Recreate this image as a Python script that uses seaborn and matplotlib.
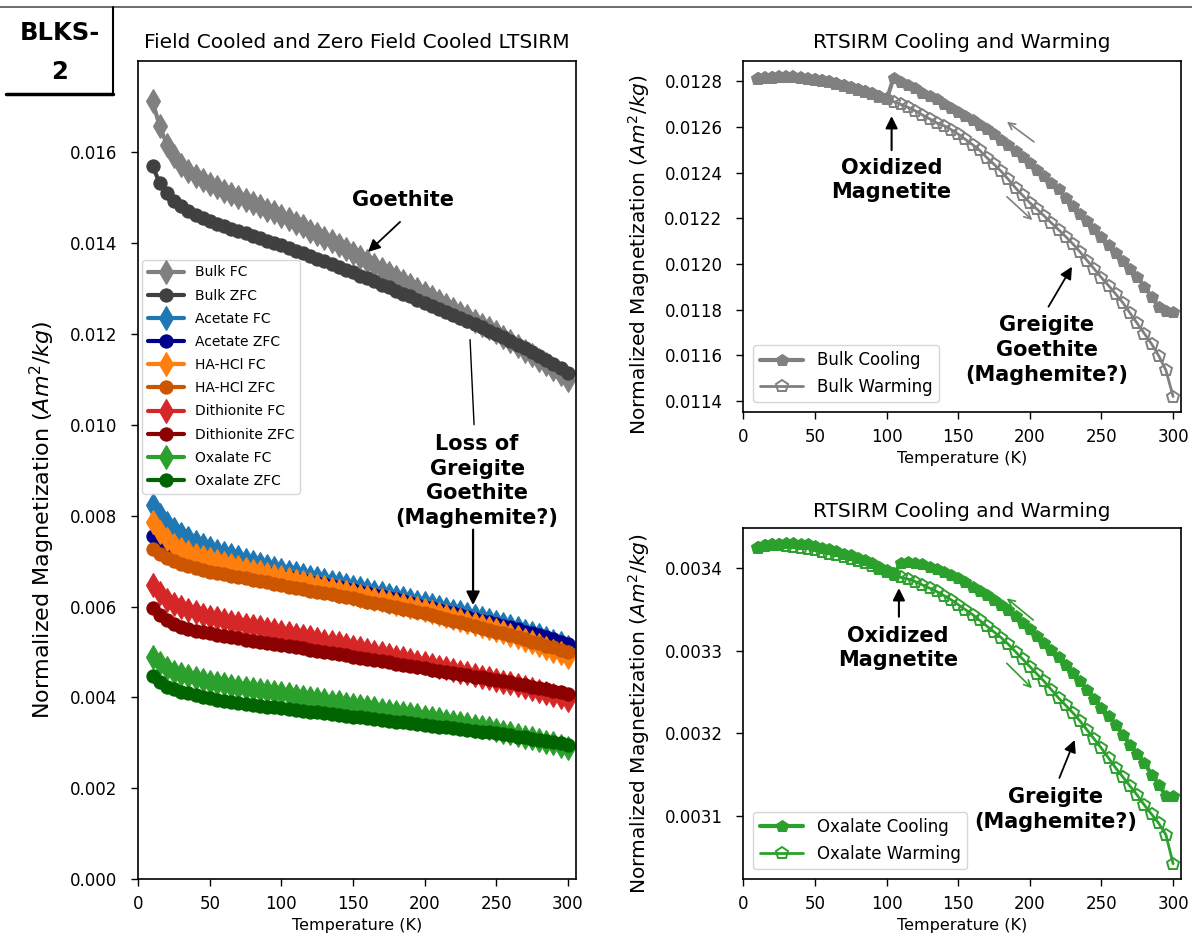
import matplotlib
matplotlib.use("Agg")
import matplotlib.pyplot as plt
from matplotlib.lines import Line2D
from matplotlib.ticker import FormatStrFormatter
import seaborn as sns

# ---------------- DATA ----------------
T_LT = [10, 15, 20, 25, 30, 35, 40, 45, 50, 55, 60, 65, 70, 75, 80, 85, 90, 95, 100,
        105, 110, 115, 120, 125, 130, 135, 140, 145, 150, 155, 160, 165, 170, 175, 180,
        185, 190, 195, 200, 205, 210, 215, 220, 225, 230, 235, 240, 245, 250, 255, 260,
        265, 270, 275, 280, 285, 290, 295, 300]

bulk_fc = [0.01711, 0.01656, 0.01616, 0.01590, 0.01571, 0.01558, 0.01547, 0.01538, 0.01530, 0.01522,
           0.01515, 0.01508, 0.01501, 0.01494, 0.01487, 0.01480, 0.01473, 0.01467, 0.01460, 0.01452,
           0.01444, 0.01436, 0.01427, 0.01419, 0.01411, 0.01403, 0.01395, 0.01387, 0.01378, 0.01369,
           0.01360, 0.01352, 0.01343, 0.01334, 0.01325, 0.01317, 0.01308, 0.01299, 0.01290, 0.01281,
           0.01273, 0.01264, 0.01255, 0.01246, 0.01238, 0.01229, 0.01220, 0.01212, 0.01203, 0.01193,
           0.01183, 0.01173, 0.01163, 0.01153, 0.01143, 0.01133, 0.01122, 0.01111, 0.01098]
bulk_zfc = [0.01569, 0.01531, 0.01509, 0.01492, 0.01480, 0.01470, 0.01462, 0.01455, 0.01448, 0.01442,
            0.01437, 0.01431, 0.01426, 0.01421, 0.01415, 0.01410, 0.01405, 0.01400, 0.01395, 0.01389,
            0.01383, 0.01377, 0.01371, 0.01365, 0.01359, 0.01353, 0.01347, 0.01341, 0.01335, 0.01328,
            0.01322, 0.01315, 0.01308, 0.01302, 0.01295, 0.01288, 0.01282, 0.01275, 0.01268, 0.01261,
            0.01255, 0.01248, 0.01241, 0.01234, 0.01228, 0.01221, 0.01214, 0.01207, 0.01200, 0.01192,
            0.01184, 0.01176, 0.01168, 0.01160, 0.01151, 0.01142, 0.01133, 0.01124, 0.01113]
acetate_fc = [0.00823, 0.00802, 0.00784, 0.00770, 0.00759, 0.00750, 0.00742, 0.00735, 0.00729, 0.00723,
              0.00718, 0.00713, 0.00708, 0.00703, 0.00698, 0.00694, 0.00689, 0.00685, 0.00681, 0.00677,
              0.00673, 0.00670, 0.00666, 0.00662, 0.00659, 0.00655, 0.00651, 0.00648, 0.00644, 0.00640,
              0.00637, 0.00633, 0.00629, 0.00626, 0.00622, 0.00618, 0.00614, 0.00611, 0.00607, 0.00603,
              0.00599, 0.00595, 0.00591, 0.00587, 0.00583, 0.00579, 0.00575, 0.00571, 0.00567, 0.00562,
              0.00557, 0.00552, 0.00547, 0.00542, 0.00537, 0.00531, 0.00525, 0.00519, 0.00511]
acetate_zfc = [0.00755, 0.00742, 0.00730, 0.00721, 0.00714, 0.00709, 0.00705, 0.00701, 0.00698, 0.00694,
               0.00691, 0.00688, 0.00685, 0.00682, 0.00679, 0.00676, 0.00673, 0.00670, 0.00667, 0.00664,
               0.00661, 0.00658, 0.00655, 0.00652, 0.00649, 0.00646, 0.00643, 0.00639, 0.00636, 0.00633,
               0.00629, 0.00626, 0.00623, 0.00619, 0.00616, 0.00612, 0.00608, 0.00604, 0.00600, 0.00597,
               0.00593, 0.00589, 0.00585, 0.00581, 0.00577, 0.00573, 0.00569, 0.00566, 0.00562, 0.00558,
               0.00554, 0.00550, 0.00545, 0.00541, 0.00537, 0.00533, 0.00528, 0.00523, 0.00518]
hahcl_fc = [0.00785, 0.00764, 0.00748, 0.00736, 0.00727, 0.00720, 0.00714, 0.00709, 0.00704, 0.00699,
            0.00695, 0.00691, 0.00687, 0.00683, 0.00679, 0.00675, 0.00672, 0.00668, 0.00664, 0.00660,
            0.00657, 0.00653, 0.00649, 0.00646, 0.00642, 0.00639, 0.00635, 0.00632, 0.00628, 0.00624,
            0.00621, 0.00617, 0.00614, 0.00610, 0.00606, 0.00603, 0.00599, 0.00596, 0.00592, 0.00588,
            0.00584, 0.00579, 0.00575, 0.00570, 0.00566, 0.00562, 0.00557, 0.00553, 0.00548, 0.00543,
            0.00538, 0.00533, 0.00527, 0.00521, 0.00515, 0.00509, 0.00503, 0.00497, 0.00490]
hahcl_zfc = [0.00727, 0.00716, 0.00707, 0.00700, 0.00694, 0.00689, 0.00685, 0.00681, 0.00677, 0.00674,
             0.00671, 0.00668, 0.00665, 0.00662, 0.00659, 0.00656, 0.00653, 0.00650, 0.00647, 0.00644,
             0.00641, 0.00638, 0.00635, 0.00633, 0.00630, 0.00627, 0.00624, 0.00621, 0.00618, 0.00615,
             0.00611, 0.00608, 0.00605, 0.00601, 0.00598, 0.00595, 0.00592, 0.00588, 0.00585, 0.00581,
             0.00577, 0.00573, 0.00569, 0.00565, 0.00561, 0.00557, 0.00553, 0.00549, 0.00545, 0.00541,
             0.00537, 0.00532, 0.00528, 0.00523, 0.00519, 0.00514, 0.00510, 0.00505, 0.00500]
dith_fc = [0.00648, 0.00629, 0.00615, 0.00606, 0.00598, 0.00592, 0.00587, 0.00582, 0.00578, 0.00574,
           0.00570, 0.00567, 0.00564, 0.00560, 0.00557, 0.00554, 0.00551, 0.00548, 0.00545, 0.00542,
           0.00538, 0.00535, 0.00532, 0.00528, 0.00525, 0.00522, 0.00519, 0.00515, 0.00512, 0.00508,
           0.00505, 0.00501, 0.00497, 0.00494, 0.00490, 0.00486, 0.00482, 0.00479, 0.00475, 0.00471,
           0.00468, 0.00464, 0.00460, 0.00457, 0.00453, 0.00450, 0.00446, 0.00442, 0.00439, 0.00435,
           0.00431, 0.00427, 0.00422, 0.00418, 0.00414, 0.00409, 0.00405, 0.00400, 0.00395]
dith_zfc = [0.00596, 0.00582, 0.00571, 0.00562, 0.00556, 0.00551, 0.00547, 0.00544, 0.00541, 0.00538,
            0.00535, 0.00532, 0.00530, 0.00527, 0.00525, 0.00522, 0.00520, 0.00518, 0.00516, 0.00513,
            0.00511, 0.00508, 0.00505, 0.00503, 0.00500, 0.00498, 0.00495, 0.00493, 0.00490, 0.00487,
            0.00485, 0.00482, 0.00480, 0.00477, 0.00474, 0.00472, 0.00469, 0.00467, 0.00464, 0.00461,
            0.00459, 0.00456, 0.00454, 0.00451, 0.00449, 0.00446, 0.00444, 0.00441, 0.00439, 0.00436,
            0.00433, 0.00430, 0.00427, 0.00424, 0.00421, 0.00418, 0.00414, 0.00411, 0.00407]
oxal_fc = [0.00490, 0.00475, 0.00464, 0.00457, 0.00452, 0.00447, 0.00443, 0.00439, 0.00435, 0.00432,
           0.00429, 0.00426, 0.00424, 0.00421, 0.00419, 0.00416, 0.00414, 0.00412, 0.00409, 0.00407,
           0.00404, 0.00401, 0.00399, 0.00396, 0.00394, 0.00391, 0.00389, 0.00386, 0.00384, 0.00381,
           0.00379, 0.00376, 0.00373, 0.00371, 0.00368, 0.00366, 0.00363, 0.00361, 0.00358, 0.00355,
           0.00352, 0.00349, 0.00346, 0.00344, 0.00341, 0.00338, 0.00335, 0.00332, 0.00329, 0.00325,
           0.00322, 0.00318, 0.00314, 0.00311, 0.00307, 0.00303, 0.00299, 0.00294, 0.00289]
oxal_zfc = [0.00447, 0.00435, 0.00424, 0.00418, 0.00413, 0.00409, 0.00405, 0.00401, 0.00398, 0.00395,
            0.00392, 0.00390, 0.00388, 0.00385, 0.00383, 0.00381, 0.00379, 0.00378, 0.00376, 0.00374,
            0.00372, 0.00371, 0.00369, 0.00367, 0.00365, 0.00363, 0.00362, 0.00360, 0.00358, 0.00356,
            0.00354, 0.00353, 0.00351, 0.00349, 0.00347, 0.00345, 0.00343, 0.00341, 0.00340, 0.00338,
            0.00336, 0.00334, 0.00332, 0.00330, 0.00328, 0.00327, 0.00325, 0.00323, 0.00321, 0.00319,
            0.00317, 0.00314, 0.00312, 0.00309, 0.00307, 0.00304, 0.00302, 0.00299, 0.00296]

lt_labels = ["Bulk FC", "Bulk ZFC", "Acetate FC", "Acetate ZFC", "HA-HCl FC", "HA-HCl ZFC",
             "Dithionite FC", "Dithionite ZFC", "Oxalate FC", "Oxalate ZFC"]
lt_colors = ["#808080", "#404040", "#1f77b4", "#00008b", "#ff7f0e", "#cc5500",
             "#d62728", "#8b0000", "#2ca02c", "#006400"]

# RTSIRM: cooling runs 300 -> 10 K, warming runs 10 -> 300 K
T_COOL_BULK = [300, 295, 290, 285, 280, 275, 270, 265, 260, 255, 250, 245, 240, 235, 230, 225,
               220, 215, 210, 205, 200, 195, 190, 185, 180, 175, 170, 165, 160, 155, 150, 145,
               140, 135, 130, 125, 120, 115, 110, 105, 100, 95, 90, 85, 80, 75, 70, 65, 60, 55,
               50, 45, 40, 35, 30, 25, 20, 15, 10]
bulk_cooling = [0.011790, 0.011795, 0.011810, 0.011856, 0.011900, 0.011945, 0.011980, 0.012015,
                0.012050, 0.012085, 0.012120, 0.012153, 0.012188, 0.012220, 0.012255, 0.012290,
                0.012326, 0.012356, 0.012385, 0.012413, 0.012440, 0.012467, 0.012495, 0.012520,
                0.012543, 0.012567, 0.012590, 0.012610, 0.012628, 0.012647, 0.012665, 0.012683,
                0.012700, 0.012720, 0.012735, 0.012750, 0.012768, 0.012782, 0.012797, 0.012815,
                0.012720, 0.012733, 0.012746, 0.012755, 0.012764, 0.012773, 0.012782, 0.012790,
                0.012800, 0.012804, 0.012807, 0.012810, 0.012814, 0.012817, 0.012819, 0.012818,
                0.012816, 0.012814, 0.012812]
T_WARM_BULK = T_LT
bulk_warming = [0.012810, 0.012813, 0.012815, 0.012817, 0.012818, 0.012816, 0.012813, 0.012809,
                0.012805, 0.012800, 0.012795, 0.012788, 0.012780, 0.012771, 0.012762, 0.012752,
                0.012743, 0.012732, 0.012720, 0.012710, 0.012698, 0.012685, 0.012670, 0.012652,
                0.012635, 0.012617, 0.012605, 0.012588, 0.012568, 0.012545, 0.012522, 0.012497,
                0.012465, 0.012436, 0.012405, 0.012370, 0.012333, 0.012300, 0.012268, 0.012240,
                0.012210, 0.012180, 0.012150, 0.012120, 0.012088, 0.012053, 0.012015, 0.011978,
                0.011940, 0.011905, 0.011868, 0.011830, 0.011785, 0.011740, 0.011695, 0.011650,
                0.011598, 0.011535, 0.011420]

T_COOL_OX = T_COOL_BULK
oxal_cooling = [0.003124, 0.003124, 0.003138, 0.003150, 0.003164, 0.003175, 0.003186, 0.003198,
                0.003210, 0.003221, 0.003231, 0.003242, 0.003253, 0.003263, 0.003273, 0.003283,
                0.003293, 0.003301, 0.003309, 0.003318, 0.003326, 0.003334, 0.003342, 0.003349,
                0.003356, 0.003362, 0.003368, 0.003373, 0.003378, 0.003383, 0.003388, 0.003392,
                0.003396, 0.003399, 0.003402, 0.003405, 0.003407, 0.003408, 0.003407, 0.003392,
                0.003398, 0.003402, 0.003406, 0.003410, 0.003413, 0.003416, 0.003418, 0.003421,
                0.003423, 0.003425, 0.003427, 0.003429, 0.003430, 0.003431, 0.003431, 0.003430,
                0.003429, 0.003428, 0.003426]
T_WARM_OX = T_LT
oxal_warming = [0.003425, 0.003427, 0.003428, 0.003428, 0.003427, 0.003426, 0.003425, 0.003424,
                0.003422, 0.003420, 0.003418, 0.003416, 0.003414, 0.003411, 0.003409, 0.003406,
                0.003403, 0.003399, 0.003396, 0.003393, 0.003389, 0.003387, 0.003384, 0.003380,
                0.003376, 0.003372, 0.003367, 0.003362, 0.003356, 0.003350, 0.003344, 0.003337,
                0.003330, 0.003323, 0.003316, 0.003308, 0.003299, 0.003290, 0.003281, 0.003272,
                0.003263, 0.003253, 0.003243, 0.003234, 0.003225, 0.003215, 0.003204, 0.003193,
                0.003182, 0.003170, 0.003158, 0.003147, 0.003136, 0.003125, 0.003113, 0.003102,
                0.003091, 0.003077, 0.003042]

# ---------------- STYLE ----------------
sns.set_theme(style="ticks", rc={
    "text.color": "black", "axes.labelcolor": "black", "xtick.color": "black",
    "ytick.color": "black", "axes.edgecolor": "black", "axes.linewidth": 1.2,
    "xtick.direction": "out", "ytick.direction": "out"})
plt.rcParams["font.family"] = ["DejaVu Sans"]

W, H = 1192, 941
fig = plt.figure(figsize=(W / 100, H / 100), dpi=100)

axL = fig.add_axes([0.1160, 0.0656, 0.3672, 0.8696])
axT = fig.add_axes([0.6236, 0.5618, 0.3668, 0.3734])
axB = fig.add_axes([0.6236, 0.0656, 0.3668, 0.3736])

bold = dict(fontsize=15, fontweight="bold", ha="center", va="center", linespacing=1.3,
            color="black")


def arrow(ax, head, tail, color="black", lw=1.5, style="-|>", scale=18):
    ax.annotate("", xy=head, xytext=tail,
                arrowprops=dict(arrowstyle=style, color=color, lw=lw, mutation_scale=scale,
                                shrinkA=0, shrinkB=0))


def style_axis(ax, xmax):
    ax.set_xlim(0, xmax)
    ax.set_xticks([0, 50, 100, 150, 200, 250, 300])
    ax.tick_params(axis="both", labelsize=12, length=5, width=1)
    ax.tick_params(axis="y", pad=10)
    ax.tick_params(axis="x", pad=6)
    ax.set_xlabel("Temperature (K)", fontsize=11.5)


# ---------------- LEFT PANEL ----------------
lt_series = [bulk_fc, bulk_zfc, acetate_fc, acetate_zfc, hahcl_fc, hahcl_zfc,
             dith_fc, dith_zfc, oxal_fc, oxal_zfc]
for i, (vals, lab, col) in enumerate(zip(lt_series, lt_labels, lt_colors)):
    is_fc = (i % 2 == 0)
    sns.lineplot(x=T_LT, y=vals, ax=axL, color=col, label=lab, estimator=None, sort=False,
                 marker="d" if is_fc else "o", markersize=12 if is_fc else 9.5,
                 markeredgecolor=col, markerfacecolor=col, markeredgewidth=0.8, linewidth=3)

style_axis(axL, 305.8)
axL.set_ylim(0, 0.018)
axL.set_yticks([0, 0.002, 0.004, 0.006, 0.008, 0.010, 0.012, 0.014, 0.016])
axL.yaxis.set_major_formatter(FormatStrFormatter("%.3f"))
axL.set_ylabel(r"Normalized Magnetization ($Am^2/kg$)", fontsize=16)
axL.yaxis.set_label_coords(-0.186, 0.44)
axL.set_title("Field Cooled and Zero Field Cooled LTSIRM", fontsize=14.5, pad=9)
axL.legend(loc="upper left", bbox_to_anchor=(0.0, 0.762), fontsize=10, handlelength=2.6,
           labelspacing=0.66, borderaxespad=0.3, frameon=True)

axL.text(185, 0.01495, "Goethite", **bold)
arrow(axL, (160.5, 0.0138), (182.9, 0.01446), lw=1.3)
axL.text(236.7, 0.00876, "Loss of\nGreigite\nGoethite\n(Maghemite?)", **bold)
arrow(axL, (231.8, 0.01187), (234.6, 0.0100), style="-", lw=1.0)
arrow(axL, (233.9, 0.00603), (233.9, 0.00769), lw=1.6, scale=20)

# ---------------- TOP-RIGHT PANEL ----------------
gray = "#808080"
sns.lineplot(x=T_COOL_BULK, y=bulk_cooling, ax=axT, color=gray, label="Bulk Cooling",
             estimator=None, sort=False, marker="p", markersize=9, markeredgecolor=gray,
             markerfacecolor=gray, linewidth=3)
sns.lineplot(x=T_WARM_BULK, y=bulk_warming, ax=axT, color=gray, label="Bulk Warming",
             estimator=None, sort=False, marker="p", markersize=9, markeredgecolor=gray,
             markerfacecolor="none", markeredgewidth=1.4, linewidth=2)
style_axis(axT, 305.2)
axT.set_ylim(0.011351, 0.012888)
axT.set_yticks([0.0114, 0.0116, 0.0118, 0.0120, 0.0122, 0.0124, 0.0126, 0.0128])
axT.yaxis.set_major_formatter(FormatStrFormatter("%.4f"))
axT.set_ylabel(r"Normalized Magnetization ($Am^2/kg$)", fontsize=14.5)
axT.yaxis.set_label_coords(-0.209, 0.45)
axT.set_title("RTSIRM Cooling and Warming", fontsize=14.5, pad=9)
axT.legend(loc="lower left", fontsize=12, handlelength=2.6, borderaxespad=0.6)

axT.text(103.5, 0.012367, "Oxidized\nMagnetite", **bold)
arrow(axT, (103.5, 0.012647), (103.5, 0.012498))
axT.text(211.8, 0.011623, "Greigite\nGoethite\n(Maghemite?)", **bold)
arrow(axT, (229.4, 0.011988), (213.0, 0.011813), lw=1.3)
arrow(axT, (184, 0.012622), (202.9, 0.012534), color=gray, lw=1.2, style="->", scale=12)
arrow(axT, (201.7, 0.012192), (184, 0.012294), color=gray, lw=1.2, style="->", scale=12)

# ---------------- BOTTOM-RIGHT PANEL ----------------
green = "#2ca02c"
sns.lineplot(x=T_COOL_OX, y=oxal_cooling, ax=axB, color=green, label="Oxalate Cooling",
             estimator=None, sort=False, marker="p", markersize=9, markeredgecolor=green,
             markerfacecolor=green, linewidth=3)
sns.lineplot(x=T_WARM_OX, y=oxal_warming, ax=axB, color=green, label="Oxalate Warming",
             estimator=None, sort=False, marker="p", markersize=9, markeredgecolor=green,
             markerfacecolor="none", markeredgewidth=1.4, linewidth=2)
style_axis(axB, 305.2)
axB.set_ylim(0.0030232, 0.0034493)
axB.set_yticks([0.0031, 0.0032, 0.0033, 0.0034])
axB.yaxis.set_major_formatter(FormatStrFormatter("%.4f"))
axB.set_ylabel(r"Normalized Magnetization ($Am^2/kg$)", fontsize=14.5)
axB.yaxis.set_label_coords(-0.209, 0.47)
axB.set_title("RTSIRM Cooling and Warming", fontsize=14.5, pad=8)
axB.legend(loc="lower left", fontsize=12, handlelength=2.6, borderaxespad=0.6)

axB.text(107.8, 0.0033035, "Oxidized\nMagnetite", **bold)
arrow(axB, (108.6, 0.0033761), (108.6, 0.0033414))
axB.text(218.1, 0.0031074, "Greigite\n(Maghemite?)", **bold)
arrow(axB, (231.3, 0.003192), (220.6, 0.003146), lw=1.3)
arrow(axB, (183.9, 0.0033637), (202.4, 0.0033374), color=green, lw=1.2, style="->", scale=12)
arrow(axB, (201.5, 0.0032547), (183.9, 0.003285), color=green, lw=1.2, style="->", scale=12)

# ---------------- FIGURE DECORATION ----------------
ytop = 1 - 7 / H
ybox = 1 - 94 / H
xbox = 113 / W
fig.add_artist(Line2D([0, 1], [ytop, ytop], transform=fig.transFigure, color="#555555", lw=1.2))
fig.add_artist(Line2D([xbox, xbox], [ytop, ybox], transform=fig.transFigure, color="black", lw=1.5))
fig.add_artist(Line2D([6 / W, xbox], [ybox, ybox], transform=fig.transFigure, color="black", lw=2.5))
fig.text(60 / W, 1 - 33 / H, "BLKS-", fontsize=17.5, fontweight="bold", ha="center", va="center")
fig.text(60 / W, 1 - 72 / H, "2", fontsize=17.5, fontweight="bold", ha="center", va="center")

fig.savefig("out.png", dpi=100)
